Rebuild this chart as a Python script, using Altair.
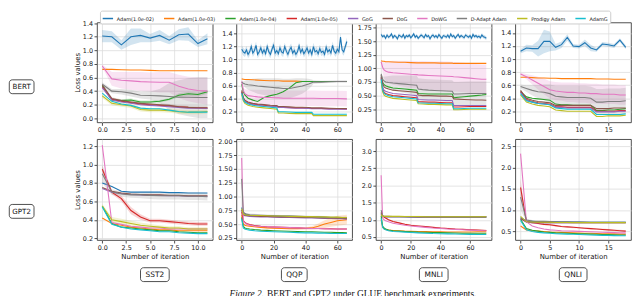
import altair as alt
import pandas as pd

SERIES = ["Adam(1.0e-02)", "Adam(1.0e-03)", "Adam(1.0e-04)", "Adam(1.0e-05)", "GoG",
          "DoG", "DoWG", "D-Adapt Adam", "Prodigy Adam", "AdamG"]
COLORS = ["#1f77b4", "#ff7f0e", "#2ca02c", "#d62728", "#9467bd",
          "#8c564b", "#e377c2", "#7f7f7f", "#bcbd22", "#17becf"]
ROWS = ["BERT", "GPT2"]
COLS = ["SST2", "QQP", "MNLI", "QNLI"]
CAPTION_A = "Figure 2."
CAPTION_B = "BERT and GPT2 under GLUE benchmark experiments."

# ---------------- BERT / SST2 ----------------
B_SST2_X = [0, 1, 2, 3, 4, 5, 6, 7, 8, 9, 10, 11]
B_SST2_Y = [
    [1.21, 1.20, 1.08, 1.20, 1.22, 1.18, 1.22, 1.15, 1.23, 1.24, 1.10, 1.17],
    [0.72, 0.72, 0.715, 0.71, 0.71, 0.705, 0.70, 0.70, 0.70, 0.70, 0.70, 0.70],
    [0.48, 0.27, 0.26, 0.27, 0.24, 0.24, 0.25, 0.28, 0.34, 0.36, 0.35, 0.39],
    [0.46, 0.28, 0.25, 0.23, 0.21, 0.20, 0.19, 0.18, 0.17, 0.16, 0.155, 0.15],
    [0.45, 0.27, 0.24, 0.22, 0.20, 0.19, 0.18, 0.17, 0.16, 0.15, 0.15, 0.145],
    [0.49, 0.29, 0.26, 0.24, 0.22, 0.21, 0.20, 0.19, 0.17, 0.16, 0.155, 0.155],
    [0.77, 0.58, 0.56, 0.55, 0.54, 0.535, 0.53, 0.53, 0.47, 0.43, 0.41, 0.40],
    [0.50, 0.40, 0.39, 0.37, 0.34, 0.335, 0.33, 0.32, 0.31, 0.31, 0.305, 0.305],
    [0.33, 0.22, 0.20, 0.18, 0.13, 0.12, 0.12, 0.11, 0.095, 0.09, 0.09, 0.10],
    [0.37, 0.25, 0.21, 0.19, 0.15, 0.14, 0.14, 0.12, 0.10, 0.09, 0.09, 0.09],
]
B_SST2_BAND = [
    [0.09, 0.08, 0.07, 0.12, 0.10, 0.06, 0.08, 0.06, 0.08, 0.10, 0.05, 0.08],
    None, [0.02, 0.02, 0.02, 0.02, 0.02, 0.02, 0.02, 0.02, 0.03, 0.03, 0.03, 0.03], None, None,
    [0.03, 0.02, 0.02, 0.02, 0.02, 0.02, 0.02, 0.02, 0.02, 0.02, 0.02, 0.02],
    [0.02, 0.10, 0.12, 0.13, 0.14, 0.14, 0.15, 0.15, 0.17, 0.18, 0.19, 0.20],
    [0.03, 0.03, 0.04, 0.05, 0.05, 0.06, 0.10, 0.20, 0.25, 0.28, 0.30, 0.30],
    [0.03, 0.03, 0.03, 0.03, 0.03, 0.03, 0.03, 0.03, 0.03, 0.03, 0.03, 0.03],
    None,
]

# ---------------- BERT / QQP ----------------
B_QQP_X = [0, 1, 2, 4, 7, 10, 14, 18, 22, 23, 26, 30, 34, 38, 42, 44, 45, 50, 55, 60, 66]
B_QQP_BLUE = [1.16, 1.12, 1.10, 1.15, 1.08, 1.12, 1.20, 1.10, 1.14, 1.22, 1.08, 1.12, 1.18, 1.10,
              1.15, 1.09, 1.20, 1.12, 1.08, 1.16, 1.22, 1.10, 1.14, 1.09, 1.18, 1.12, 1.10, 1.20,
              1.13, 1.08, 1.15, 1.19, 1.10, 1.14, 1.08, 1.12, 1.21, 1.11, 1.16, 1.09, 1.13, 1.18,
              1.10, 1.15, 1.08, 1.20, 1.12, 1.14, 1.09, 1.17, 1.11, 1.13, 1.08, 1.19, 1.12, 1.15,
              1.10, 1.22, 1.13, 1.10, 1.16, 1.12, 1.35, 1.15, 1.12, 1.20, 1.28]
B_QQP_BLUE_SPREAD = 0.06
B_QQP_Y = [
    None,
    [0.70, 0.695, 0.69, 0.69, 0.685, 0.68, 0.675, 0.67, 0.67, 0.67, 0.665, 0.665, 0.665, 0.66, 0.66, 0.66, 0.66, 0.66, 0.66, 0.66, 0.66],
    [0.62, 0.50, 0.45, 0.40, 0.37, 0.35, 0.41, 0.44, 0.46, 0.47, 0.50, 0.56, 0.64, 0.66, 0.66, 0.66, 0.66, 0.66, 0.66, 0.66, 0.66],
    [0.50, 0.40, 0.36, 0.33, 0.31, 0.30, 0.29, 0.28, 0.275, 0.26, 0.26, 0.255, 0.25, 0.25, 0.245, 0.24, 0.24, 0.24, 0.235, 0.235, 0.23],
    [0.49, 0.39, 0.35, 0.32, 0.30, 0.29, 0.28, 0.275, 0.27, 0.255, 0.255, 0.25, 0.245, 0.245, 0.24, 0.235, 0.235, 0.235, 0.23, 0.23, 0.23],
    [0.52, 0.41, 0.37, 0.34, 0.32, 0.31, 0.30, 0.29, 0.285, 0.27, 0.27, 0.265, 0.26, 0.26, 0.255, 0.25, 0.25, 0.25, 0.245, 0.24, 0.24],
    [0.66, 0.52, 0.47, 0.44, 0.43, 0.42, 0.41, 0.41, 0.405, 0.405, 0.40, 0.40, 0.40, 0.40, 0.40, 0.40, 0.40, 0.395, 0.395, 0.395, 0.39],
    [0.65, 0.63, 0.62, 0.61, 0.60, 0.59, 0.58, 0.57, 0.56, 0.56, 0.55, 0.55, 0.57, 0.59, 0.62, 0.64, 0.65, 0.65, 0.655, 0.66, 0.66],
    [0.45, 0.36, 0.32, 0.29, 0.27, 0.26, 0.25, 0.24, 0.23, 0.17, 0.17, 0.165, 0.16, 0.16, 0.16, 0.16, 0.13, 0.13, 0.13, 0.13, 0.13],
    [0.48, 0.38, 0.34, 0.31, 0.29, 0.28, 0.27, 0.26, 0.25, 0.19, 0.19, 0.185, 0.18, 0.18, 0.18, 0.18, 0.15, 0.15, 0.15, 0.15, 0.15],
]
B_QQP_BAND = [
    None, None, None, None, None, None,
    [0.02, 0.05, 0.07, 0.09, 0.10, 0.11, 0.12, 0.12, 0.12, 0.12, 0.12, 0.12, 0.12, 0.12, 0.12, 0.12, 0.12, 0.12, 0.12, 0.12, 0.12],
    [0.02, 0.03, 0.05, 0.08, 0.10, 0.12, 0.13, 0.14, 0.15, 0.15, 0.15, 0.15, 0.14, 0.12, 0.08, 0.05, 0.03, 0.02, 0.02, 0.02, 0.02],
    None, None,
]

# ---------------- BERT / MNLI ----------------
B_MNLI_X = [0, 1, 2, 3, 5, 8, 12, 16, 20, 24, 25, 28, 32, 36, 40, 44, 48, 49, 52, 56, 60, 64, 68, 71]
B_MNLI_BLUE = [1.62, 1.58, 1.60, 1.55, 1.61, 1.57, 1.59, 1.63, 1.56, 1.60, 1.58, 1.54, 1.61, 1.59,
               1.57, 1.62, 1.55, 1.60, 1.58, 1.61, 1.56, 1.59, 1.63, 1.57, 1.60, 1.55, 1.58, 1.61,
               1.59, 1.56, 1.62, 1.58, 1.60, 1.54, 1.59, 1.61, 1.57, 1.60, 1.56, 1.62, 1.58, 1.55,
               1.60, 1.59, 1.57, 1.61, 1.56, 1.63, 1.58, 1.60, 1.55, 1.59, 1.62, 1.57, 1.60, 1.58,
               1.56, 1.61, 1.59, 1.57, 1.60, 1.55, 1.62, 1.58, 1.60, 1.57, 1.59, 1.56, 1.61, 1.58,
               1.57, 1.55]
B_MNLI_BLUE_SPREAD = 0.035
B_MNLI_Y = [
    None,
    [1.14, 1.13, 1.13, 1.12, 1.12, 1.115, 1.11, 1.11, 1.105, 1.10, 1.10, 1.10, 1.10, 1.10, 1.095, 1.095, 1.095, 1.09, 1.09, 1.09, 1.09, 1.09, 1.09, 1.09],
    [0.85, 0.74, 0.70, 0.68, 0.66, 0.64, 0.63, 0.62, 0.61, 0.60, 0.54, 0.535, 0.53, 0.53, 0.53, 0.53, 0.53, 0.46, 0.47, 0.48, 0.49, 0.50, 0.51, 0.52],
    [0.82, 0.62, 0.56, 0.54, 0.52, 0.50, 0.49, 0.48, 0.47, 0.46, 0.39, 0.385, 0.38, 0.38, 0.375, 0.37, 0.37, 0.29, 0.29, 0.295, 0.30, 0.30, 0.30, 0.30],
    [0.84, 0.66, 0.60, 0.58, 0.56, 0.54, 0.53, 0.52, 0.51, 0.50, 0.43, 0.425, 0.42, 0.42, 0.415, 0.41, 0.41, 0.32, 0.32, 0.32, 0.32, 0.32, 0.32, 0.32],
    [0.88, 0.72, 0.66, 0.64, 0.62, 0.60, 0.59, 0.58, 0.57, 0.56, 0.51, 0.50, 0.50, 0.495, 0.49, 0.49, 0.485, 0.44, 0.435, 0.43, 0.425, 0.42, 0.42, 0.415],
    [1.12, 1.02, 0.97, 0.95, 0.93, 0.92, 0.91, 0.90, 0.89, 0.885, 0.88, 0.875, 0.87, 0.865, 0.86, 0.855, 0.85, 0.845, 0.84, 0.83, 0.82, 0.81, 0.80, 0.80],
    [0.90, 0.80, 0.77, 0.75, 0.74, 0.73, 0.72, 0.71, 0.70, 0.69, 0.62, 0.61, 0.60, 0.595, 0.59, 0.585, 0.58, 0.53, 0.53, 0.535, 0.54, 0.54, 0.54, 0.54],
    [0.76, 0.57, 0.51, 0.49, 0.47, 0.45, 0.44, 0.43, 0.42, 0.41, 0.35, 0.345, 0.34, 0.34, 0.335, 0.33, 0.33, 0.24, 0.24, 0.245, 0.25, 0.25, 0.25, 0.25],
    [0.80, 0.60, 0.54, 0.52, 0.50, 0.48, 0.47, 0.46, 0.45, 0.44, 0.37, 0.365, 0.36, 0.36, 0.355, 0.35, 0.35, 0.26, 0.26, 0.265, 0.27, 0.27, 0.27, 0.27],
]
B_MNLI_BAND = [
    None, None, None, None, None, None,
    [0.02, 0.10, 0.15, 0.18, 0.20, 0.22, 0.23, 0.24, 0.25, 0.25, 0.25, 0.26, 0.26, 0.26, 0.27, 0.27, 0.27, 0.27, 0.27, 0.27, 0.27, 0.27, 0.27, 0.27],
    [0.02, 0.05, 0.08, 0.10, 0.12, 0.14, 0.15, 0.16, 0.17, 0.18, 0.20, 0.20, 0.20, 0.20, 0.20, 0.20, 0.20, 0.22, 0.22, 0.22, 0.22, 0.22, 0.22, 0.22],
    None, None,
]

# ---------------- BERT / QNLI ----------------
B_QNLI_X = [0, 1, 2, 3, 4, 5, 6, 7, 8, 9, 10, 11, 12, 13, 14, 15, 16, 17, 18]
B_QNLI_Y = [
    [1.12, 1.17, 1.16, 1.16, 1.27, 1.27, 1.18, 1.22, 1.33, 1.20, 1.19, 1.25, 1.17, 1.14, 1.23, 1.22, 1.20, 1.29, 1.18],
    [0.72, 0.72, 0.715, 0.71, 0.71, 0.705, 0.705, 0.70, 0.70, 0.70, 0.70, 0.70, 0.70, 0.695, 0.695, 0.695, 0.69, 0.69, 0.69],
    [0.50, 0.42, 0.40, 0.39, 0.38, 0.37, 0.31, 0.30, 0.30, 0.29, 0.29, 0.29, 0.29, 0.21, 0.21, 0.22, 0.22, 0.23, 0.24],
    [0.50, 0.38, 0.35, 0.33, 0.32, 0.31, 0.27, 0.27, 0.26, 0.26, 0.26, 0.26, 0.26, 0.20, 0.20, 0.20, 0.20, 0.21, 0.21],
    [0.49, 0.37, 0.34, 0.32, 0.31, 0.30, 0.26, 0.26, 0.25, 0.25, 0.25, 0.25, 0.25, 0.19, 0.19, 0.19, 0.19, 0.20, 0.20],
    [0.52, 0.40, 0.37, 0.35, 0.34, 0.33, 0.29, 0.29, 0.29, 0.29, 0.29, 0.29, 0.29, 0.24, 0.24, 0.24, 0.25, 0.25, 0.25],
    [0.77, 0.73, 0.68, 0.63, 0.58, 0.53, 0.51, 0.50, 0.49, 0.49, 0.48, 0.48, 0.47, 0.47, 0.46, 0.46, 0.46, 0.45, 0.45],
    [0.58, 0.55, 0.52, 0.50, 0.49, 0.47, 0.43, 0.42, 0.41, 0.41, 0.41, 0.41, 0.40, 0.34, 0.34, 0.35, 0.35, 0.35, 0.36],
    [0.45, 0.34, 0.31, 0.29, 0.28, 0.27, 0.22, 0.21, 0.20, 0.20, 0.20, 0.20, 0.20, 0.12, 0.12, 0.13, 0.13, 0.13, 0.14],
    [0.47, 0.36, 0.34, 0.32, 0.31, 0.30, 0.25, 0.24, 0.23, 0.23, 0.23, 0.23, 0.23, 0.15, 0.15, 0.15, 0.15, 0.15, 0.16],
]
B_QNLI_BAND = [
    [0.03, 0.05, 0.05, 0.12, 0.18, 0.15, 0.05, 0.05, 0.05, 0.03, 0.03, 0.05, 0.05, 0.03, 0.03, 0.03, 0.03, 0.03, 0.03],
    None, None, None, None, None,
    [0.02, 0.04, 0.07, 0.10, 0.12, 0.13, 0.14, 0.14, 0.15, 0.15, 0.15, 0.15, 0.15, 0.15, 0.15, 0.15, 0.15, 0.15, 0.15],
    [0.03, 0.05, 0.08, 0.10, 0.12, 0.14, 0.16, 0.17, 0.18, 0.18, 0.18, 0.18, 0.18, 0.20, 0.20, 0.20, 0.20, 0.20, 0.20],
    None, None,
]

# ---------------- GPT2 / SST2 ----------------
G_SST2_X = [0, 1, 2, 3, 4, 5, 6, 7, 8, 9, 10, 11]
G_SST2_Y = [
    [0.80, 0.76, 0.71, 0.70, 0.70, 0.70, 0.70, 0.695, 0.695, 0.69, 0.69, 0.69],
    [0.42, 0.36, 0.34, 0.32, 0.31, 0.30, 0.29, 0.29, 0.28, 0.28, 0.28, 0.28],
    [0.55, 0.36, 0.32, 0.31, 0.30, 0.29, 0.28, 0.28, 0.27, 0.265, 0.26, 0.26],
    [0.95, 0.70, 0.63, 0.50, 0.43, 0.39, 0.39, 0.38, 0.37, 0.36, 0.355, 0.355],
    [0.74, 0.70, 0.685, 0.675, 0.67, 0.665, 0.665, 0.66, 0.66, 0.655, 0.655, 0.655],
    [0.75, 0.71, 0.69, 0.68, 0.675, 0.67, 0.67, 0.665, 0.665, 0.66, 0.66, 0.66],
    [1.21, 0.37, 0.35, 0.33, 0.32, 0.31, 0.31, 0.30, 0.30, 0.30, 0.30, 0.30],
    [0.90, 0.70, 0.68, 0.67, 0.67, 0.665, 0.66, 0.66, 0.66, 0.655, 0.655, 0.65],
    [0.55, 0.40, 0.38, 0.36, 0.34, 0.33, 0.32, 0.31, 0.31, 0.30, 0.30, 0.30],
    [0.54, 0.35, 0.32, 0.30, 0.29, 0.28, 0.27, 0.27, 0.26, 0.255, 0.25, 0.25],
]
G_SST2_BAND = [
    None, None, None,
    [0.03, 0.02, 0.03, 0.04, 0.03, 0.02, 0.02, 0.02, 0.02, 0.02, 0.02, 0.02],
    None, None, None,
    [0.10, 0.03, 0.03, 0.03, 0.035, 0.04, 0.04, 0.04, 0.04, 0.04, 0.04, 0.04],
    [0.02, 0.03, 0.03, 0.03, 0.03, 0.025, 0.02, 0.02, 0.02, 0.02, 0.02, 0.02],
    None,
]

# ---------------- GPT2 / QQP ----------------
G_QQP_X = [0, 1, 2, 3, 5, 8, 12, 16, 20, 25, 30, 35, 40, 44, 48, 52, 56, 60, 63, 66]
G_QQP_Y = [
    [0.80, 0.70, 0.68, 0.67, 0.66, 0.655, 0.65, 0.65, 0.645, 0.64, 0.64, 0.635, 0.63, 0.63, 0.625, 0.62, 0.62, 0.615, 0.615, 0.61],
    [0.66, 0.50, 0.48, 0.47, 0.46, 0.45, 0.44, 0.43, 0.425, 0.42, 0.415, 0.415, 0.42, 0.43, 0.46, 0.50, 0.53, 0.56, 0.57, 0.58],
    [0.62, 0.46, 0.43, 0.42, 0.41, 0.40, 0.39, 0.385, 0.38, 0.375, 0.37, 0.365, 0.36, 0.36, 0.355, 0.35, 0.35, 0.345, 0.345, 0.34],
    [0.72, 0.56, 0.53, 0.51, 0.49, 0.475, 0.46, 0.45, 0.445, 0.44, 0.435, 0.43, 0.425, 0.42, 0.42, 0.415, 0.415, 0.41, 0.41, 0.41],
    [0.75, 0.66, 0.65, 0.645, 0.64, 0.635, 0.63, 0.63, 0.625, 0.62, 0.62, 0.615, 0.61, 0.61, 0.605, 0.60, 0.60, 0.595, 0.595, 0.59],
    [0.76, 0.67, 0.66, 0.655, 0.65, 0.645, 0.64, 0.64, 0.635, 0.63, 0.63, 0.625, 0.62, 0.62, 0.615, 0.61, 0.61, 0.605, 0.605, 0.60],
    [1.70, 0.56, 0.52, 0.50, 0.48, 0.465, 0.455, 0.45, 0.445, 0.44, 0.435, 0.43, 0.425, 0.42, 0.42, 0.415, 0.41, 0.41, 0.41, 0.41],
    [1.32, 0.72, 0.69, 0.68, 0.67, 0.665, 0.66, 0.655, 0.65, 0.645, 0.645, 0.64, 0.635, 0.63, 0.63, 0.625, 0.62, 0.62, 0.615, 0.615],
    [0.78, 0.68, 0.67, 0.665, 0.66, 0.655, 0.655, 0.65, 0.645, 0.645, 0.64, 0.64, 0.635, 0.635, 0.63, 0.63, 0.625, 0.625, 0.62, 0.62],
    [0.60, 0.43, 0.41, 0.40, 0.39, 0.38, 0.37, 0.365, 0.36, 0.355, 0.35, 0.345, 0.34, 0.34, 0.335, 0.335, 0.33, 0.33, 0.33, 0.33],
]
G_QQP_BAND = [
    None,
    [0.02, 0.01, 0.01, 0.01, 0.01, 0.01, 0.01, 0.01, 0.01, 0.01, 0.01, 0.01, 0.02, 0.03, 0.05, 0.07, 0.08, 0.09, 0.09, 0.09],
    None, None, None, None,
    [0.05, 0.02, 0.02, 0.02, 0.02, 0.02, 0.02, 0.02, 0.02, 0.02, 0.02, 0.02, 0.02, 0.02, 0.02, 0.02, 0.02, 0.02, 0.02, 0.02],
    [0.15, 0.03, 0.02, 0.02, 0.02, 0.02, 0.02, 0.02, 0.02, 0.02, 0.02, 0.02, 0.02, 0.02, 0.02, 0.02, 0.02, 0.02, 0.02, 0.02],
    None, None,
]

# ---------------- GPT2 / MNLI ----------------
G_MNLI_X = [0, 1, 2, 3, 5, 8, 12, 16, 20, 25, 30, 35, 40, 45, 50, 55, 60, 65, 71]
G_MNLI_Y = [
    [1.20, 1.10, 1.09, 1.09, 1.09, 1.09, 1.09, 1.09, 1.085, 1.085, 1.085, 1.085, 1.085, 1.08, 1.08, 1.08, 1.08, 1.08, 1.08],
    [1.00, 0.78, 0.74, 0.72, 0.70, 0.69, 0.68, 0.67, 0.665, 0.66, 0.655, 0.65, 0.65, 0.645, 0.645, 0.645, 0.645, 0.65, 0.65],
    [1.12, 0.82, 0.76, 0.73, 0.70, 0.68, 0.67, 0.66, 0.65, 0.64, 0.635, 0.63, 0.625, 0.62, 0.615, 0.61, 0.61, 0.61, 0.61],
    [1.22, 1.12, 1.08, 1.05, 1.00, 0.95, 0.91, 0.87, 0.84, 0.82, 0.80, 0.78, 0.76, 0.745, 0.73, 0.72, 0.71, 0.70, 0.69],
    [1.17, 1.10, 1.095, 1.09, 1.09, 1.09, 1.09, 1.09, 1.085, 1.085, 1.085, 1.085, 1.085, 1.085, 1.08, 1.08, 1.08, 1.08, 1.08],
    [1.18, 1.10, 1.095, 1.09, 1.09, 1.09, 1.09, 1.09, 1.09, 1.085, 1.085, 1.085, 1.085, 1.085, 1.085, 1.08, 1.08, 1.08, 1.08],
    [2.30, 1.05, 1.00, 0.97, 0.94, 0.90, 0.87, 0.84, 0.82, 0.80, 0.78, 0.76, 0.745, 0.73, 0.72, 0.71, 0.70, 0.69, 0.68],
    [1.28, 1.12, 1.10, 1.10, 1.10, 1.095, 1.095, 1.09, 1.09, 1.09, 1.09, 1.09, 1.09, 1.085, 1.085, 1.085, 1.085, 1.085, 1.085],
    [1.15, 1.11, 1.10, 1.10, 1.10, 1.10, 1.10, 1.095, 1.095, 1.095, 1.09, 1.09, 1.09, 1.09, 1.09, 1.09, 1.09, 1.09, 1.09],
    [1.05, 0.78, 0.73, 0.71, 0.68, 0.66, 0.65, 0.64, 0.63, 0.62, 0.61, 0.60, 0.595, 0.59, 0.585, 0.58, 0.575, 0.57, 0.57],
]
G_MNLI_BAND = [
    None, None, None,
    [0.05, 0.02, 0.02, 0.02, 0.02, 0.02, 0.02, 0.02, 0.02, 0.02, 0.02, 0.02, 0.02, 0.02, 0.02, 0.02, 0.02, 0.02, 0.02],
    None, None, None, None,
    [0.03, 0.02, 0.02, 0.02, 0.02, 0.02, 0.02, 0.02, 0.02, 0.02, 0.02, 0.02, 0.02, 0.02, 0.02, 0.02, 0.02, 0.02, 0.02],
    None,
]

# ---------------- GPT2 / QNLI ----------------
G_QNLI_X = [0, 1, 2, 3, 4, 5, 6, 7, 8, 9, 10, 11, 12, 13, 14, 15, 16, 17, 18]
G_QNLI_Y = [
    [0.82, 0.74, 0.73, 0.72, 0.72, 0.72, 0.72, 0.715, 0.715, 0.715, 0.715, 0.71, 0.71, 0.71, 0.71, 0.71, 0.71, 0.71, 0.71],
    [0.62, 0.53, 0.51, 0.50, 0.49, 0.48, 0.475, 0.47, 0.465, 0.46, 0.455, 0.45, 0.45, 0.445, 0.44, 0.44, 0.435, 0.43, 0.43],
    [0.78, 0.56, 0.52, 0.50, 0.48, 0.47, 0.46, 0.455, 0.45, 0.445, 0.44, 0.435, 0.43, 0.425, 0.42, 0.42, 0.415, 0.41, 0.41],
    [1.53, 0.72, 0.70, 0.68, 0.66, 0.65, 0.63, 0.61, 0.60, 0.59, 0.58, 0.57, 0.56, 0.55, 0.54, 0.53, 0.52, 0.51, 0.50],
    [0.79, 0.71, 0.70, 0.70, 0.70, 0.70, 0.70, 0.70, 0.70, 0.70, 0.70, 0.70, 0.70, 0.70, 0.70, 0.70, 0.70, 0.70, 0.70],
    [0.80, 0.72, 0.71, 0.71, 0.70, 0.70, 0.70, 0.70, 0.70, 0.70, 0.70, 0.70, 0.70, 0.70, 0.70, 0.70, 0.70, 0.70, 0.70],
    [2.33, 0.72, 0.62, 0.58, 0.55, 0.53, 0.52, 0.51, 0.505, 0.50, 0.495, 0.49, 0.485, 0.48, 0.475, 0.47, 0.465, 0.46, 0.46],
    [1.30, 0.76, 0.74, 0.73, 0.73, 0.725, 0.72, 0.72, 0.72, 0.715, 0.715, 0.715, 0.71, 0.71, 0.71, 0.71, 0.71, 0.71, 0.71],
    [0.85, 0.72, 0.715, 0.71, 0.71, 0.71, 0.705, 0.705, 0.705, 0.70, 0.70, 0.70, 0.70, 0.70, 0.70, 0.70, 0.70, 0.70, 0.70],
    [0.75, 0.53, 0.49, 0.47, 0.46, 0.45, 0.44, 0.435, 0.43, 0.425, 0.42, 0.415, 0.41, 0.405, 0.40, 0.40, 0.395, 0.39, 0.39],
]
G_QNLI_BAND = [
    None, None, None,
    [0.20, 0.02, 0.02, 0.02, 0.02, 0.02, 0.02, 0.02, 0.02, 0.02, 0.02, 0.02, 0.02, 0.02, 0.02, 0.02, 0.02, 0.02, 0.02],
    None, None, None,
    [0.30, 0.03, 0.02, 0.02, 0.02, 0.02, 0.02, 0.02, 0.02, 0.02, 0.02, 0.02, 0.02, 0.02, 0.02, 0.02, 0.02, 0.02, 0.02],
    None, None,
]

# ---------------- axes ----------------
X_SHORT_TICKS = [0, 2.5, 5, 7.5, 10]
X_LONG_TICKS = [0, 20, 40, 60]
X_QNLI_TICKS = [0, 5, 10, 15]

PANELS = [
    (0, 0, B_SST2_X, B_SST2_Y, B_SST2_BAND, None, None, [-0.55, 11.55], X_SHORT_TICKS, ".1f",
     [-0.06, 1.41], [0, 0.2, 0.4, 0.6, 0.8, 1.0, 1.2, 1.4], ".1f"),
    (0, 1, B_QQP_X, B_QQP_Y, B_QQP_BAND, B_QQP_BLUE, B_QQP_BLUE_SPREAD, [-3.3, 69.3], X_LONG_TICKS, "d",
     [0.025, 1.575], [0.2, 0.4, 0.6, 0.8, 1.0, 1.2, 1.4], ".1f"),
    (0, 2, B_MNLI_X, B_MNLI_Y, B_MNLI_BAND, B_MNLI_BLUE, B_MNLI_BLUE_SPREAD, [-3.55, 74.55], X_LONG_TICKS, "d",
     [0.01, 1.84], [0.25, 0.5, 0.75, 1.0, 1.25, 1.5, 1.75], ".2f"),
    (0, 3, B_QNLI_X, B_QNLI_Y, B_QNLI_BAND, None, None, [-0.9, 18.9], X_QNLI_TICKS, "d",
     [0.03, 1.56], [0.2, 0.4, 0.6, 0.8, 1.0, 1.2, 1.4], ".1f"),
    (1, 0, G_SST2_X, G_SST2_Y, G_SST2_BAND, None, None, [-0.55, 11.55], X_SHORT_TICKS, ".1f",
     [0.18, 1.275], [0.2, 0.4, 0.6, 0.8, 1.0, 1.2], ".1f"),
    (1, 1, G_QQP_X, G_QQP_Y, G_QQP_BAND, None, None, [-3.3, 69.3], X_LONG_TICKS, "d",
     [0.21, 2.04], [0.25, 0.5, 0.75, 1.0, 1.25, 1.5, 1.75, 2.0], ".2f"),
    (1, 2, G_MNLI_X, G_MNLI_Y, G_MNLI_BAND, None, None, [-3.55, 74.55], X_LONG_TICKS, "d",
     [0.41, 3.35], [0.5, 1.0, 1.5, 2.0, 2.5, 3.0], ".1f"),
    (1, 3, G_QNLI_X, G_QNLI_Y, G_QNLI_BAND, None, None, [-0.9, 18.9], X_QNLI_TICKS, "d",
     [0.29, 2.67], [0.5, 1.0, 1.5, 2.0, 2.5], ".1f"),
]

PANEL_W = 117
ROW_H = [101, 102]
FIRST_COL_W = 65
BOTTOM_H = 26

LEGEND = alt.Legend(
    orient="none", legendX=92, legendY=-12, direction="horizontal", columns=10, title=None,
    symbolType="stroke", symbolSize=110, symbolStrokeWidth=1.5, symbolOpacity=1,
    labelFont="DejaVu Sans", labelFontSize=5, labelOffset=3, labelColor="#111",
    columnPadding=6, padding=2, strokeColor="#cccccc", fillColor="white", cornerRadius=2,
)
COLOR = alt.Color("series:N", scale=alt.Scale(domain=SERIES, range=COLORS), sort=SERIES, legend=LEGEND)


def build_frames(xs, ys, bands, blue_dense, blue_spread):
    lines, areas = [], []
    for k, name in enumerate(SERIES):
        if k == 0 and blue_dense is not None:
            px = list(range(len(blue_dense)))
            py = blue_dense
            pb = [blue_spread] * len(blue_dense)
        else:
            px, py, pb = xs, ys[k], bands[k]
        for i, (x, y) in enumerate(zip(px, py)):
            lines.append({"series": name, "k": k, "x": x, "y": y})
            if pb is not None:
                areas.append({"series": name, "k": k, "x": x, "lo": y - pb[i], "hi": y + pb[i]})
    return pd.DataFrame(lines), pd.DataFrame(areas)


def make_panel(spec):
    r, c, xs, ys, bands, bd, bsp, xdom, xt, xf, ydom, yt, yf = spec
    ldf, adf = build_frames(xs, ys, bands, bd, bsp)
    xscale = alt.Scale(domain=xdom, nice=False, zero=False)
    yscale = alt.Scale(domain=ydom, nice=False, zero=False)
    xaxis = alt.Axis(values=xt, format=xf, title="Number of iteration" if r == 1 else None)
    yaxis = alt.Axis(values=yt, format=yf, title="Loss values" if c == 0 else None)
    area = alt.Chart(adf).mark_area(opacity=0.2, clip=True, interpolate="linear").encode(
        x=alt.X("x:Q", scale=xscale, axis=xaxis),
        y=alt.Y("lo:Q", scale=yscale, axis=yaxis, stack=None),
        y2="hi:Q",
        color=COLOR,
        detail="k:O",
    )
    line = alt.Chart(ldf).mark_line(strokeWidth=1.1, clip=True).encode(
        x=alt.X("x:Q", scale=xscale, axis=xaxis),
        y=alt.Y("y:Q", scale=yscale, axis=yaxis),
        color=COLOR,
        detail="k:O",
    )
    return alt.layer(area, line).properties(
        width=PANEL_W, height=ROW_H[r],
        view=alt.ViewBackground(stroke="#222222", strokeWidth=0.8),
    )


def box_layers(text, w, cx, cy, fs):
    base = alt.Chart(pd.DataFrame({"t": [text]}))
    box = base.mark_rect(fill="white", stroke="#222222", strokeWidth=0.8, cornerRadius=3).encode(
        x=alt.value(cx - w / 2), x2=alt.value(cx + w / 2),
        y=alt.value(cy - 7), y2=alt.value(cy + 7),
    )
    txt = base.mark_text(font="DejaVu Sans", fontSize=fs, align="center", baseline="middle",
                         color="#111111").encode(
        x=alt.value(cx), y=alt.value(cy + 0.5), text="t:N")
    return [box, txt]


panels = [make_panel(s) for s in PANELS]

ROW_LABEL_CY = [65, 73]
row_labels = [alt.layer(*box_layers(ROWS[r], 25, 12.8, ROW_LABEL_CY[r], 7.2)).properties(
    width=FIRST_COL_W, height=ROW_H[r]) for r in range(2)]

COL_BOX_W = [29, 26, 29, 28]
col_labels = [alt.layer(*box_layers(COLS[i], COL_BOX_W[i], PANEL_W / 2, 18, 7.5)).properties(
    width=PANEL_W, height=BOTTOM_H) for i in range(4)]

cap_df = pd.DataFrame({"a": [CAPTION_A], "b": [CAPTION_B]})
cap_a = alt.Chart(cap_df).mark_text(font="Liberation Serif", fontStyle="italic", fontSize=9.5,
                                    align="left", baseline="alphabetic", color="#111111").encode(
    x=alt.value(223), y=alt.value(41), text="a:N")
cap_b = alt.Chart(cap_df).mark_text(font="Liberation Serif", fontSize=9.5,
                                    align="left", baseline="alphabetic", color="#111111").encode(
    x=alt.value(261), y=alt.value(41), text="b:N")
caption_cell = alt.layer(cap_a, cap_b).properties(width=FIRST_COL_W, height=BOTTOM_H)

cells = [row_labels[0]] + panels[0:4] + [row_labels[1]] + panels[4:8] + [caption_cell] + col_labels

chart = alt.concat(
    *cells, columns=5, spacing={"row": 17, "column": 24}, align="each", bounds="flush"
).resolve_scale(
    x="independent", y="independent"
).properties(
    padding={"left": 0, "top": 0, "right": 0, "bottom": 0}
).configure_view(
    stroke="transparent"
).configure_axis(
    labelFont="DejaVu Sans", titleFont="DejaVu Sans", labelFontSize=6.5, titleFontSize=7,
    labelColor="#222222", titleColor="#111111", titleFontWeight="normal",
    tickColor="#222222", tickSize=3, tickWidth=0.8, domain=False,
    gridColor="#dddddd", gridWidth=0.8, labelPadding=1.5, titlePadding=2,
    labelFlush=False, labelOverlap=False,
)

chart.save("out.html", embed_options={"renderer": "svg", "actions": False})
